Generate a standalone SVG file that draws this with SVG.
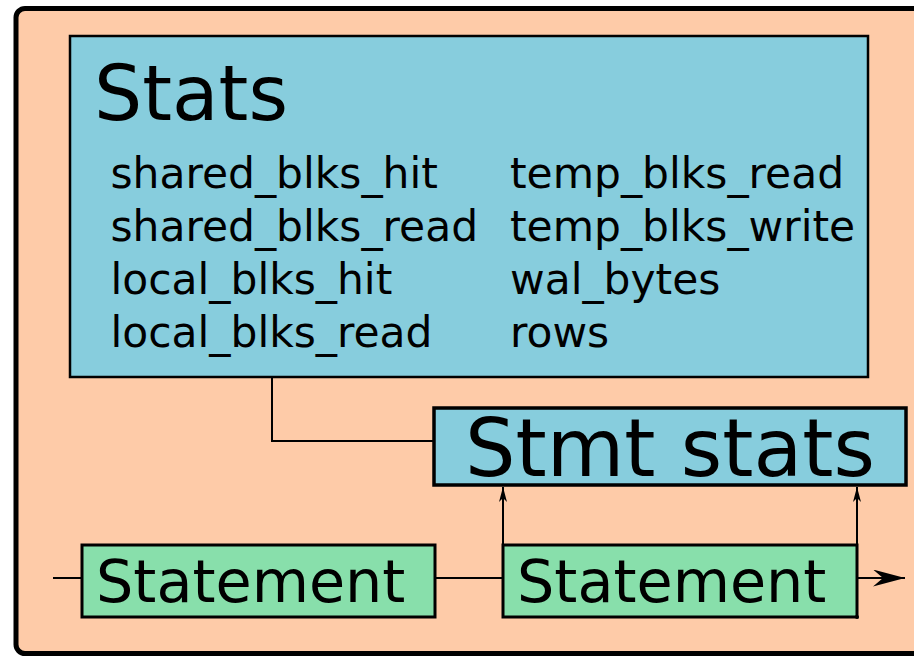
<svg xmlns="http://www.w3.org/2000/svg" width="914" height="656" viewBox="0 0 914 656">
  <style>
    text { font-family: "DejaVu Sans", "Liberation Sans", sans-serif; fill: #000; }
    .blue { fill: #87cddd; stroke: #000; }
    .green { fill: #88dfab; stroke: #000; stroke-width: 3; }
    .wire { fill: none; stroke: #000; stroke-width: 2; }
    .field { font-size: 42.4px; }
  </style>
  <defs>
    <marker id="tipSmall" refX="15" refY="4" markerWidth="15" markerHeight="8" markerUnits="userSpaceOnUse" orient="auto">
      <path d="M0,0 L15,4 L0,8 L4,4 Z" fill="#000"/>
    </marker>
    <marker id="tipLarge" refX="32" refY="8.5" markerWidth="32" markerHeight="17" markerUnits="userSpaceOnUse" orient="auto">
      <path d="M0,0 L32,8.5 L0,17 L10,8.5 Z" fill="#000"/>
    </marker>
  </defs>

  <!-- enclosing panel -->
  <rect x="16" y="8.5" width="940" height="645" rx="9" fill="#fecba8" stroke="#000" stroke-width="5"/>

  <!-- connectors -->
  <g id="connectors">
    <polyline class="wire" points="272,377 272,441 434,441"/>
    <line class="wire" x1="53" y1="578" x2="82" y2="578"/>
    <line class="wire" x1="435" y1="578" x2="503" y2="578"/>
    <line class="wire" x1="857" y1="578" x2="905" y2="578" marker-end="url(#tipLarge)"/>
    <line class="wire" x1="503" y1="545" x2="503" y2="487" marker-end="url(#tipSmall)"/>
    <line class="wire" x1="857" y1="545" x2="857" y2="487" marker-end="url(#tipSmall)"/>
  </g>

  <g id="stats">
    <rect class="blue" x="70" y="36" width="798" height="341" stroke-width="2.5"/>
    <text x="94" y="120" font-size="76">Stats</text>
    <text class="field" x="110.5" y="188">shared_blks_hit</text>
    <text class="field" x="110.5" y="241">shared_blks_read</text>
    <text class="field" x="110.5" y="294">local_blks_hit</text>
    <text class="field" x="110.5" y="347">local_blks_read</text>
    <text class="field" x="510" y="188">temp_blks_read</text>
    <text class="field" x="510" y="241">temp_blks_write</text>
    <text class="field" x="510" y="294">wal_bytes</text>
    <text class="field" x="510" y="347">rows</text>
  </g>

  <g id="stmt-stats">
    <rect class="blue" x="434" y="408" width="472" height="77" stroke-width="3.5"/>
    <text x="465" y="476" font-size="79.6">Stmt stats</text>
  </g>

  <g id="statement-1">
    <rect class="green" x="82" y="545" width="353" height="72"/>
    <text x="96" y="602" font-size="58.8">Statement</text>
  </g>

  <g id="statement-2">
    <rect class="green" x="503" y="545" width="354" height="72"/>
    <text x="517" y="602" font-size="58.8">Statement</text>
    <circle cx="857" cy="617" r="2" fill="#000"/>
  </g>
</svg>
